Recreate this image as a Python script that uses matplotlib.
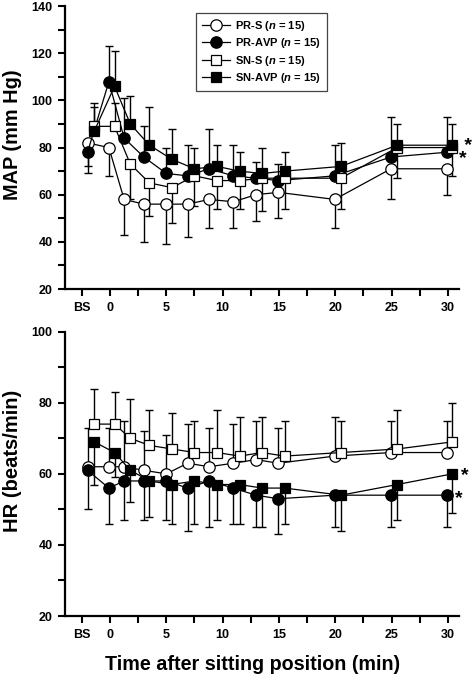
import numpy as np
import matplotlib
matplotlib.use('Agg')
import matplotlib.pyplot as plt
from matplotlib.ticker import MultipleLocator, FixedLocator

plt.rcParams['font.family'] = 'Liberation Sans'
plt.rcParams['font.weight'] = 'bold'
plt.rcParams['mathtext.fontset'] = 'custom'
plt.rcParams['mathtext.rm'] = 'Liberation Sans:bold'
plt.rcParams['mathtext.it'] = 'Liberation Sans:italic:bold'

## temps de mesure (min), BS = avant la mise en position assise
## les groupes SN sont un peu décalés à droite pour la lisibilité
t_pr = [-2.0, -0.1, 1.25, 3.0, 5.0, 6.9, 8.8, 10.95, 12.95, 14.95, 19.95, 24.95, 29.9]
t_sn = [-1.4, 0.4, 1.8, 3.5, 5.5, 7.5, 9.5, 11.5, 13.5, 15.5, 20.5, 25.5, 30.4]

xtick_pos = [-2.5, 0, 5, 10, 15, 20, 25, 30]
xtick_lab = ['BS', '0', '5', '10', '15', '20', '25', '30']

## MAP (mm Hg) : moyenne et extrémité de la barre d'erreur
map_prs = [82, 80, 58, 56, 56, 56, 58, 57, 60, 61, 58, 71, 71]
map_prs_bar = [72, 68, 43, 40, 39, 42, 46, 46, 49, 50, 46, 58, 60]
map_pravp = [78, 108, 84, 76, 69, 68, 71, 68, 67, 66, 68, 76, 78]
map_pravp_bar = [69, 123, 101, 89, 80, 81, 88, 81, 74, 73, 81, 93, 93]
map_sns = [89, 89, 73, 65, 63, 68, 66, 66, 67, 67, 67, 80, 80]
map_sns_bar = [97, 99, 58, 51, 48, 55, 54, 54, 53, 54, 54, 67, 68]
map_snavp = [87, 106, 90, 81, 75, 71, 72, 70, 69, 70, 72, 81, 81]
map_snavp_bar = [99, 121, 102, 97, 88, 80, 81, 78, 80, 78, 82, 90, 90]

## HR (beats/min)
hr_prs = [62, 62, 62, 61, 60, 63, 62, 63, 64, 63, 65, 66, 66]
hr_prs_bar = [73, 73, 75, 72, 71, 74, 73, 74, 75, 73, 76, 75, 75]
hr_pravp = [61, 56, 58, 58, 58, 56, 58, 56, 54, 53, 54, 54, 54]
hr_pravp_bar = [50, 46, 47, 47, 47, 44, 45, 46, 45, 43, 45, 45, 45]
hr_sns = [74, 74, 70, 68, 67, 66, 66, 65, 66, 65, 66, 67, 69]
hr_sns_bar = [84, 83, 81, 78, 77, 75, 78, 76, 76, 75, 75, 78, 80]
hr_snavp = [69, 66, 61, 58, 57, 58, 57, 57, 56, 56, 54, 57, 60]
hr_snavp_bar = [57, 59, 52, 48, 46, 46, 47, 46, 45, 46, 44, 47, 49]

labels = [r'PR-S ($n$ = 15)', r'PR-AVP ($n$ = 15)', r'SN-S ($n$ = 15)', r'SN-AVP ($n$ = 15)']


def trace(ax, x, y, tip, marker, face, ms, label):
    y = np.array(y, dtype=float)
    tip = np.array(tip, dtype=float)
    lo = np.where(tip < y, y - tip, 0)
    hi = np.where(tip > y, tip - y, 0)
    ax.errorbar(x, y, yerr=[lo, hi], fmt='none', ecolor='k', elinewidth=1.0,
                capsize=2.6, capthick=1.0, zorder=2, clip_on=False)
    ax.plot(x, y, color='k', lw=0.9, marker=marker, ms=ms, mfc=face, mec='k',
            mew=0.9, label=label, zorder=3, clip_on=False)


def habille(ax, ymin, ymax):
    ax.set_xlim(-4, 31)
    ax.set_ylim(ymin, ymax)
    ax.spines['top'].set_visible(False)
    ax.spines['right'].set_visible(False)
    ax.spines['left'].set_linewidth(1.6)
    ax.spines['bottom'].set_linewidth(1.6)
    ax.xaxis.set_major_locator(FixedLocator(xtick_pos))
    ax.set_xticklabels(xtick_lab)
    ax.xaxis.set_minor_locator(FixedLocator([2.5, 7.5, 12.5, 17.5, 22.5, 27.5]))
    ax.yaxis.set_major_locator(MultipleLocator(20))
    ax.yaxis.set_minor_locator(MultipleLocator(10))
    ax.tick_params(which='both', direction='out', length=5, width=1.5, labelsize=9, pad=4)


fig = plt.figure(figsize=(4.72, 6.8), dpi=100)
ax1 = fig.add_axes([0.1377, 0.575, 0.835, 0.416])
ax2 = fig.add_axes([0.1377, 0.0941, 0.835, 0.4181])

trace(ax1, t_pr, map_prs, map_prs_bar, 'o', 'white', 8.2, labels[0])
trace(ax1, t_pr, map_pravp, map_pravp_bar, 'o', 'black', 8.2, labels[1])
trace(ax1, t_sn, map_sns, map_sns_bar, 's', 'white', 6.8, labels[2])
trace(ax1, t_sn, map_snavp, map_snavp_bar, 's', 'black', 6.8, labels[3])
habille(ax1, 20, 140)
ax1.set_ylabel('MAP (mm Hg)', fontsize=14.3, fontweight='bold')
ax1.yaxis.set_label_coords(-0.109, 0.544)
leg = ax1.legend(loc='upper left', bbox_to_anchor=(0.332, 0.976), fontsize=8, numpoints=1,
                 handlelength=2.5, handletextpad=0.45, labelspacing=0.3, borderpad=0.55,
                 borderaxespad=0, fancybox=False, framealpha=1, edgecolor='#444444')
leg.get_frame().set_linewidth(0.9)
# les deux astérisques de MAP sont serrés : un seul texte sur deux lignes
ax1.text(31.0, 77.9, ' *\n*', fontsize=14, ha='left', va='center', multialignment='left',
         linespacing=0.66, clip_on=False)

trace(ax2, t_pr, hr_prs, hr_prs_bar, 'o', 'white', 8.2, labels[0])
trace(ax2, t_pr, hr_pravp, hr_pravp_bar, 'o', 'black', 8.2, labels[1])
trace(ax2, t_sn, hr_sns, hr_sns_bar, 's', 'white', 6.8, labels[2])
trace(ax2, t_sn, hr_snavp, hr_snavp_bar, 's', 'black', 6.8, labels[3])
habille(ax2, 20, 100)
ax2.set_ylabel('HR (beats/min)', fontsize=14.5, fontweight='bold')
ax2.yaxis.set_label_coords(-0.109, 0.545)
ax2.set_xlabel('Time after sitting position (min)', fontsize=14.2, fontweight='bold')
ax2.xaxis.set_label_coords(0.477, -0.137)
ax2.text(31.5, 59.4, '*', fontsize=14, ha='center', va='center', clip_on=False)
ax2.text(31.0, 53.1, '*', fontsize=14, ha='center', va='center', clip_on=False)

fig.savefig('out.png', dpi=100)
